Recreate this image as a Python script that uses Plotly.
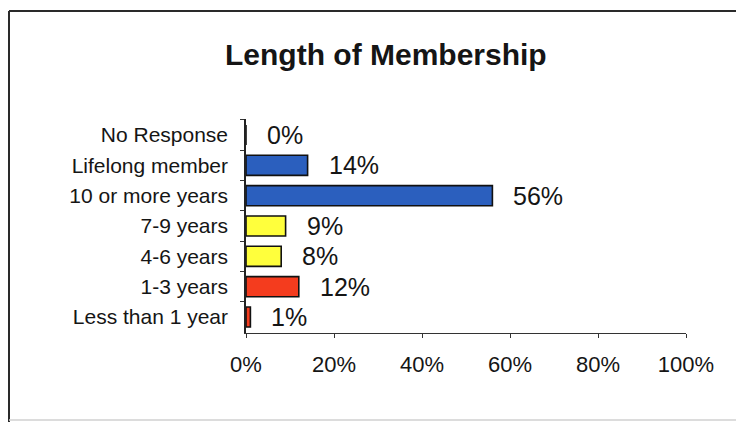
import plotly.graph_objects as go

# Survey responses, listed top to bottom as shown
categories = ["No Response", "Lifelong member", "10 or more years", "7-9 years",
              "4-6 years", "1-3 years", "Less than 1 year"]
percent = [0, 14, 56, 9, 8, 12, 1]
bar_colors = ["#2b5fbe", "#2b5fbe", "#2b5fbe", "#ffff3c", "#ffff3c", "#f43c1e", "#f43c1e"]
tick_vals = [0, 20, 40, 60, 80, 100]
tick_text = ["0%", "20%", "40%", "60%", "80%", "100%"]

FONT = "Liberation Sans, Arial, sans-serif"
INK = "#151515"

# Figure pixel layout
W, H = 736, 422
L, R, T, B = 246, 50, 119, 89
PW, PH = W - L - R, H - T - B


def px_x(px):
    return (px - L) / PW


def px_y(py):
    return 1 - (py - T) / PH


fig = go.Figure(
    go.Bar(
        y=categories,
        x=percent,
        orientation="h",
        width=0.66,
        marker=dict(color=bar_colors, line=dict(color="#111111", width=1.6)),
        hoverinfo="skip",
    )
)

# Value labels to the right of each bar
for cat, v in zip(categories, percent):
    fig.add_annotation(
        x=v, y=cat, xref="x", yref="y",
        text=f"{v}%", showarrow=False,
        xanchor="left", yanchor="middle", xshift=19,
        font=dict(family=FONT, size=25, color=INK),
    )

# Title
fig.add_annotation(
    x=px_x(386), y=px_y(54), xref="paper", yref="paper",
    text="<b>Length of Membership</b>", showarrow=False,
    xanchor="center", yanchor="middle",
    font=dict(family=FONT, size=30, color=INK),
)

# Chart frame
fig.add_shape(type="line", xref="paper", yref="paper",
              x0=px_x(9), x1=px_x(740), y0=px_y(11), y1=px_y(11),
              line=dict(color="#2a2a2a", width=2))
fig.add_shape(type="line", xref="paper", yref="paper",
              x0=px_x(9), x1=px_x(9), y0=px_y(11), y1=px_y(424),
              line=dict(color="#2a2a2a", width=2))
fig.add_shape(type="line", xref="paper", yref="paper",
              x0=px_x(9), x1=px_x(740), y0=px_y(420), y1=px_y(420),
              line=dict(color="#d0d0d0", width=1.5))

fig.update_xaxes(
    range=[0, 100],
    tickvals=tick_vals, ticktext=tick_text,
    ticks="outside", ticklen=4, tickwidth=1.2, tickcolor="#333333",
    showline=True, linecolor="#333333", linewidth=1.3,
    showgrid=False, zeroline=False,
    ticklabelstandoff=7,
    tickfont=dict(family=FONT, size=22, color=INK),
    fixedrange=True,
)
fig.update_yaxes(
    categoryorder="array", categoryarray=categories,
    autorange="reversed",
    ticks="outside", tickson="boundaries", ticklen=4, tickwidth=1.2, tickcolor="#333333",
    showline=True, linecolor="#222222", linewidth=1.5,
    showgrid=False, zeroline=False,
    ticklabelstandoff=12,
    tickfont=dict(family=FONT, size=21, color=INK),
    fixedrange=True,
)

fig.update_layout(
    width=W, height=H,
    margin=dict(l=L, r=R, t=T, b=B, autoexpand=False),
    paper_bgcolor="white", plot_bgcolor="white",
    showlegend=False,
    bargap=0.34,
)

fig.write_html("out.html", config={"displayModeBar": False})
